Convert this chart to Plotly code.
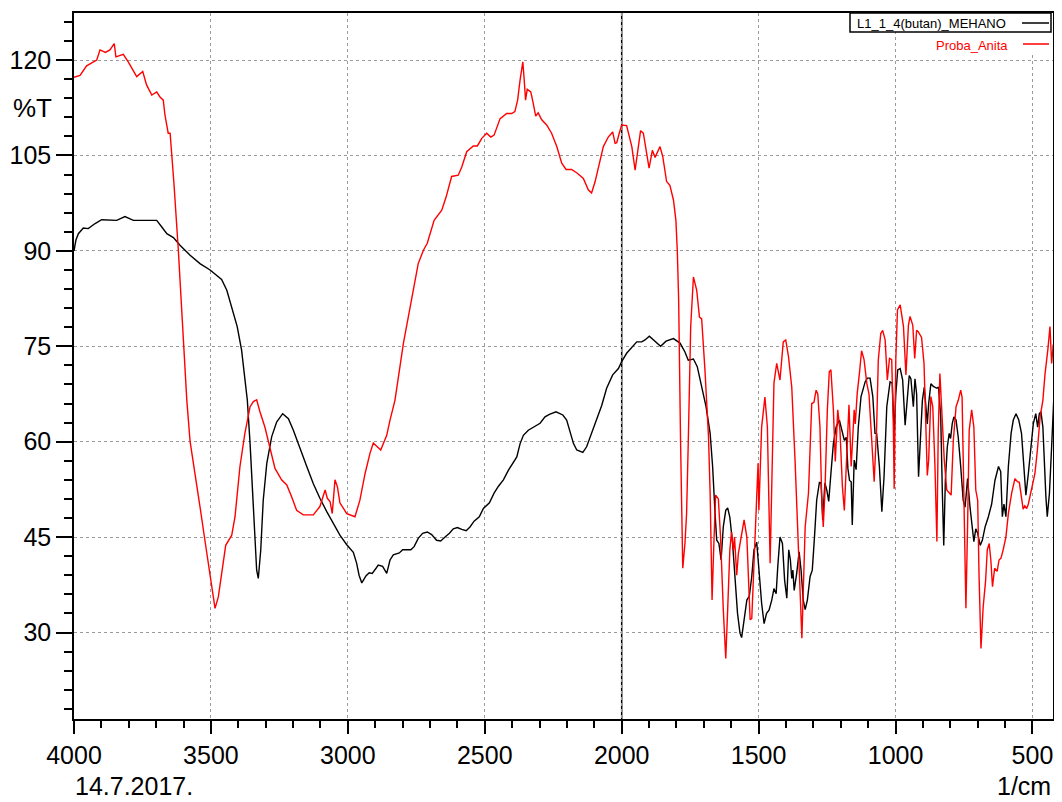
import plotly.graph_objects as go

# ---- data (wavenumber in 1/cm, %T) ----
black_name = "L1_1_4(butan)_MEHANO"
black_wn = [4000, 3993, 3984, 3966, 3948, 3923, 3899, 3869, 3844, 3814, 3783, 3747, 3698, 3680, 3661,
            3637, 3613, 3576, 3540, 3503, 3461, 3442, 3424, 3404, 3388, 3376, 3367, 3357, 3349, 3339,
            3333, 3327, 3318, 3309, 3296, 3278, 3260, 3238, 3217, 3199, 3175, 3150, 3126, 3102, 3077,
            3053, 3029, 3004, 2980, 2968, 2959, 2949, 2934, 2922, 2911, 2897, 2889, 2873, 2858, 2846,
            2834, 2812, 2800, 2770, 2758, 2743, 2727, 2710, 2694, 2676, 2661, 2645, 2629, 2615, 2600,
            2584, 2568, 2554, 2539, 2520, 2505, 2483, 2466, 2450, 2432, 2414, 2396, 2383, 2371, 2359,
            2341, 2323, 2298, 2280, 2264, 2240, 2215, 2201, 2189, 2176, 2164, 2142, 2128, 2110, 2091,
            2073, 2055, 2033, 2012, 2000, 1982, 1960, 1945, 1927, 1915, 1899, 1878, 1858, 1838, 1811,
            1787, 1769, 1757, 1738, 1724, 1708, 1692, 1677, 1668, 1659, 1653, 1645, 1637, 1629, 1620,
            1613, 1605, 1595, 1586, 1577, 1568, 1562, 1553, 1543, 1534, 1525, 1517, 1507, 1500, 1489,
            1480, 1471, 1462, 1452, 1444, 1436, 1430, 1422, 1413, 1405, 1397, 1390, 1384, 1379, 1375,
            1370, 1361, 1352, 1345, 1337, 1330, 1322, 1312, 1304, 1296, 1288, 1278, 1272, 1266, 1258,
            1251, 1244, 1236, 1227, 1217, 1205, 1196, 1187, 1180, 1174, 1168, 1162, 1158, 1151, 1144,
            1136, 1126, 1111, 1103, 1093, 1083, 1075, 1069, 1059, 1050, 1042, 1032, 1020, 1012, 1005,
            999, 992, 983, 974, 965, 957, 950, 944, 935, 929, 923, 916, 908, 902, 895,
            889, 884, 879, 871, 862, 849, 843, 835, 829, 824, 818, 811, 804, 799, 793,
            787, 779, 771, 762, 753, 746, 737, 728, 720, 714, 707, 700, 691, 683, 673,
            661, 649, 637, 624, 616, 610, 604, 597, 588, 578, 570, 560, 550, 540, 531,
            524, 515, 506, 497, 488, 481, 475, 469, 462, 457, 451, 446, 438, 430, 421,
            414, 409, 402]
black_t = [90.0, 91.7, 92.7, 93.6, 93.5, 94.3, 94.9, 94.8, 94.8, 95.4, 94.8, 94.8, 94.8, 93.8, 92.7,
           92.1, 90.9, 89.3, 88.0, 87.0, 85.5, 83.8, 81.2, 78.1, 74.4, 70.2, 66.5, 59.7, 52.9, 44.5,
           39.8, 38.5, 43.0, 50.8, 56.6, 60.8, 63.1, 64.4, 63.6, 61.8, 58.9, 56.1, 53.4, 51.1, 49.0,
           47.2, 45.3, 43.8, 42.6, 40.9, 39.0, 37.8, 38.9, 39.4, 39.3, 40.1, 40.6, 40.4, 39.3, 41.4,
           42.2, 42.5, 43.0, 43.0, 43.5, 44.8, 45.6, 45.8, 45.4, 44.5, 44.4, 45.0, 45.6, 46.3, 46.5,
           46.2, 46.0, 46.6, 47.5, 48.2, 49.5, 50.4, 51.9, 53.0, 54.0, 55.5, 56.8, 57.6, 59.7, 61.0,
           61.8, 62.3, 62.9, 63.9, 64.3, 64.7, 64.2, 63.4, 61.6, 59.7, 58.7, 58.3, 59.2, 61.3, 63.7,
           65.7, 68.4, 70.5, 71.5, 72.6, 73.9, 74.9, 75.7, 75.7, 76.0, 76.6, 75.7, 75.0, 75.8, 76.2,
           75.5, 74.1, 72.8, 73.0, 71.8, 68.4, 65.5, 61.3, 56.1, 48.7, 44.5, 44.0, 41.4, 46.6, 49.2,
           49.6, 48.1, 44.0, 38.2, 33.0, 29.9, 29.2, 32.0, 35.1, 35.7, 38.8, 43.0, 44.2, 40.5, 34.6,
           31.4, 33.0, 33.5, 35.1, 36.9, 36.1, 40.4, 45.0, 44.0, 38.2, 35.4, 43.0, 41.4, 38.5, 39.8,
           36.6, 39.3, 42.7, 39.8, 35.1, 33.6, 35.1, 38.8, 39.8, 45.0, 50.8, 53.6, 53.5, 47.7, 53.5,
           52.4, 50.6, 55.0, 59.7, 62.3, 63.4, 61.8, 60.2, 60.7, 55.8, 53.9, 53.7, 46.9, 57.1, 55.6,
           62.3, 67.1, 69.4, 70.0, 70.0, 67.1, 61.3, 61.3, 56.1, 49.0, 54.5, 65.5, 69.4, 69.2, 61.4,
           67.5, 71.3, 71.5, 69.7, 62.6, 67.5, 70.4, 69.9, 65.5, 69.9, 67.5, 54.5, 62.3, 66.5, 68.6,
           66.0, 62.8, 66.0, 69.1, 68.7, 68.4, 68.6, 63.9, 51.9, 43.7, 54.0, 59.2, 61.3, 60.5, 62.8,
           63.9, 63.4, 60.7, 56.1, 50.8, 49.7, 54.2, 49.7, 46.6, 44.3, 46.3, 45.6, 43.7, 44.5, 46.6,
           48.2, 50.2, 53.9, 56.1, 55.3, 48.2, 50.2, 48.2, 56.1, 61.3, 63.4, 64.4, 63.4, 61.3, 56.1,
           51.6, 55.0, 59.2, 62.8, 64.4, 62.3, 64.4, 64.7, 62.3, 56.1, 51.4, 48.2, 51.9, 59.2, 67.9,
           66.5, 62.3, 60.0]

red_name = "Proba_Anita"
red_wn = [4000, 3978, 3954, 3917, 3905, 3885, 3869, 3853, 3847, 3820, 3802, 3771, 3749, 3735, 3716,
          3698, 3686, 3674, 3668, 3656, 3649, 3645, 3635, 3619, 3603, 3588, 3576, 3558, 3540, 3522,
          3501, 3485, 3473, 3461, 3446, 3424, 3412, 3394, 3376, 3357, 3345, 3333, 3321, 3303, 3284,
          3266, 3242, 3223, 3205, 3187, 3163, 3126, 3102, 3083, 3075, 3065, 3057, 3047, 3038, 3029,
          3004, 2974, 2956, 2937, 2919, 2907, 2880, 2858, 2846, 2834, 2828, 2797, 2773, 2758, 2743,
          2724, 2710, 2685, 2657, 2641, 2621, 2597, 2584, 2566, 2542, 2527, 2511, 2493, 2478, 2466,
          2444, 2420, 2402, 2390, 2380, 2371, 2361, 2356, 2351, 2345, 2332, 2323, 2314, 2305, 2292,
          2274, 2256, 2237, 2219, 2203, 2183, 2162, 2140, 2122, 2110, 2097, 2082, 2067, 2049, 2033,
          2024, 2018, 2009, 2000, 1982, 1972, 1963, 1951, 1942, 1931, 1921, 1911, 1900, 1888, 1878,
          1860, 1850, 1836, 1824, 1811, 1802, 1797, 1792, 1785, 1781, 1777, 1769, 1763, 1757, 1748,
          1738, 1726, 1716, 1708, 1696, 1683, 1677, 1670, 1663, 1657, 1647, 1639, 1629, 1620, 1613,
          1605, 1599, 1592, 1588, 1580, 1574, 1564, 1553, 1543, 1531, 1525, 1517, 1509, 1502, 1499,
          1489, 1477, 1468, 1458, 1452, 1444, 1434, 1422, 1410, 1401, 1391, 1379, 1367, 1355, 1342,
          1330, 1318, 1306, 1298, 1290, 1284, 1276, 1270, 1264, 1258, 1249, 1242, 1236, 1227, 1220,
          1211, 1203, 1194, 1187, 1178, 1170, 1162, 1156, 1151, 1147, 1140, 1132, 1124, 1115, 1105,
          1097, 1089, 1078, 1069, 1063, 1054, 1047, 1038, 1030, 1022, 1014, 1008, 1005, 999, 993,
          983, 971, 962, 953, 947, 937, 930, 923, 917, 905, 896, 889, 884, 879, 871,
          864, 856, 849, 844, 838, 829, 822, 813, 804, 797, 789, 779, 771, 762, 757,
          750, 743, 737, 731, 722, 714, 707, 700, 695, 688, 680, 671, 665, 658, 652,
          646, 638, 629, 622, 615, 607, 597, 588, 576, 564, 555, 548, 540, 534, 528,
          521, 515, 506, 497, 491, 482, 472, 462, 454, 444, 436, 430, 424, 418, 414,
          409, 405]
red_t = [117.3, 117.6, 119.1, 120.0, 121.6, 121.2, 121.6, 122.6, 120.5, 120.9, 119.7, 117.4, 118.2, 116.1, 114.5,
         115.0, 114.2, 113.7, 111.4, 108.5, 108.5, 106.4, 100.6, 90.1, 77.0, 66.5, 60.0, 54.5, 49.8, 44.5,
         38.2, 33.8, 35.6, 39.3, 43.7, 45.3, 48.2, 56.1, 61.3, 65.5, 66.3, 66.6, 64.7, 62.3, 58.7,
         55.8, 54.0, 53.2, 51.3, 49.2, 48.5, 48.5, 49.8, 52.4, 51.1, 50.6, 48.7, 54.0, 52.9, 50.4,
         48.7, 48.2, 50.8, 55.0, 58.2, 59.8, 58.7, 61.0, 63.4, 65.7, 66.5, 75.5, 81.2, 84.9, 88.0,
         90.1, 91.2, 94.8, 96.4, 98.5, 101.7, 101.9, 103.2, 105.6, 106.5, 106.5, 107.7, 108.5, 107.9, 108.2,
         110.8, 111.6, 111.6, 111.9, 113.7, 116.9, 119.7, 116.9, 113.7, 115.4, 115.0, 113.2, 111.2, 111.7, 110.6,
         109.8, 108.5, 106.4, 103.8, 102.8, 102.8, 102.2, 101.4, 99.6, 99.1, 100.9, 103.8, 106.4, 107.9, 108.7,
         106.9, 107.0, 108.5, 109.8, 109.7, 107.9, 106.4, 102.7, 105.8, 108.9, 108.5, 105.8, 103.0, 105.8, 104.7,
         106.4, 104.8, 100.9, 100.3, 98.0, 94.8, 90.1, 82.3, 60.0, 45.6, 40.1, 44.0, 48.7, 59.7, 78.1,
         85.9, 83.8, 79.6, 79.3, 71.3, 60.8, 51.9, 35.1, 44.5, 51.6, 51.0, 45.0, 33.6, 25.9, 33.6,
         43.0, 45.8, 42.9, 45.0, 39.0, 42.4, 45.0, 47.7, 45.0, 32.0, 32.2, 41.4, 50.8, 56.6, 49.2,
         62.3, 67.0, 62.3, 40.9, 54.5, 69.2, 72.3, 69.7, 75.7, 76.0, 73.4, 68.6, 57.1, 43.0, 29.1,
         46.6, 51.9, 66.0, 66.2, 68.1, 67.5, 62.3, 51.9, 46.6, 51.9, 65.0, 71.0, 71.3, 65.0, 56.9,
         65.0, 61.8, 52.9, 49.2, 57.1, 65.8, 56.1, 62.3, 65.0, 62.8, 67.6, 70.7, 74.3, 72.9, 69.2,
         67.5, 62.3, 53.7, 62.3, 72.8, 77.0, 77.5, 76.0, 69.7, 73.1, 72.9, 62.3, 52.6, 72.9, 80.7,
         81.5, 78.1, 70.5, 78.3, 79.7, 78.3, 73.1, 77.5, 77.3, 76.4, 72.3, 63.4, 54.7, 57.1, 67.1,
         65.5, 56.1, 44.3, 61.7, 70.7, 63.4, 57.1, 52.4, 51.9, 51.6, 60.2, 65.5, 66.5, 68.1, 67.0,
         51.9, 33.8, 46.6, 61.8, 65.0, 62.3, 52.4, 50.8, 38.8, 27.5, 34.0, 38.2, 43.0, 44.0, 41.4,
         37.2, 40.1, 39.6, 41.4, 41.7, 43.0, 45.0, 48.7, 51.9, 54.2, 53.7, 53.6, 51.4, 49.4, 49.9,
         49.5, 50.2, 51.9, 53.8, 55.0, 58.7, 63.9, 66.5, 70.7, 74.4, 78.1, 72.3, 75.3, 74.4, 68.9,
         87.0, 73.0]

x_ticks = [4000, 3500, 3000, 2500, 2000, 1500, 1000, 500]
y_ticks = [30, 45, 60, 75, 90, 105, 120]
marker_wn = 2000
y_label = "%T"
x_unit = "1/cm"
date_text = "14.7.2017."

# ---- styling ----
FONT = "Liberation Sans, Arial, sans-serif"
PAGE_OFF = 8                      # default body margin of the html page
W, H = 1046, 794
L, R, T, B = 66, 1, 5, 83
PL, PT = L + PAGE_OFF, T + PAGE_OFF   # plot-area origin in window pixels
PW, PH = W - L - R, H - T - B


def px_x(px):
    return (px - PL) / PW


def px_y(py):
    return (PT + PH - py) / PH


fig = go.Figure()
fig.add_trace(go.Scatter(x=black_wn, y=black_t, mode="lines", name=black_name,
                         line=dict(color="black", width=1.4)))
fig.add_trace(go.Scatter(x=red_wn, y=red_t, mode="lines", name=red_name,
                         line=dict(color="#ff0000", width=1.4)))

grid = dict(showgrid=True, gridcolor="#9a9a9a", griddash="dot", gridwidth=1)
fig.update_xaxes(range=[4000, 425], tickmode="array", tickvals=x_ticks, automargin=False,
                 ticks="outside", ticklen=13, tickwidth=1.5, tickcolor="black",
                 showline=True, linecolor="black", linewidth=1.5, mirror=True,
                 zeroline=False, tickfont=dict(family=FONT, size=25, color="black"),
                 minor=dict(dtick=100, tick0=0, ticks="outside", ticklen=7, tickwidth=1.5,
                            tickcolor="black", showgrid=False),
                 **grid)
fig.update_yaxes(range=[16.4, 127.4], tickmode="array", tickvals=y_ticks, automargin=False,
                 ticks="outside", ticklen=16, tickwidth=1.5, tickcolor="black",
                 showline=True, linecolor="black", linewidth=1.5, mirror=True,
                 zeroline=False, tickfont=dict(family=FONT, size=25, color="black"),
                 minor=dict(dtick=3, tick0=0, ticks="outside", ticklen=8, tickwidth=1.5,
                            tickcolor="black", showgrid=False),
                 **grid)

shapes = [
    dict(type="line", xref="x", yref="paper", x0=marker_wn, x1=marker_wn, y0=0, y1=1,
         line=dict(color="black", width=1.5), layer="below"),
    dict(type="rect", xref="paper", yref="paper", x0=px_x(935), x1=px_x(1052),
         y0=px_y(53), y1=px_y(32), fillcolor="white", line=dict(width=0), layer="above"),
    dict(type="rect", xref="paper", yref="paper", x0=px_x(850), x1=px_x(1051),
         y0=px_y(32), y1=px_y(13), fillcolor="white", line=dict(color="black", width=1.5),
         layer="above"),
    dict(type="line", xref="paper", yref="paper", x0=px_x(1022), x1=px_x(1049),
         y0=px_y(23), y1=px_y(23), line=dict(color="black", width=1.5), layer="above"),
    dict(type="line", xref="paper", yref="paper", x0=px_x(1023), x1=px_x(1049),
         y0=px_y(44), y1=px_y(44), line=dict(color="#ff0000", width=1.5), layer="above"),
]

annotations = [
    dict(text=y_label, xref="paper", yref="paper", x=px_x(32), y=px_y(108),
         xanchor="center", yanchor="middle", showarrow=False,
         font=dict(family=FONT, size=26, color="black")),
    dict(text=date_text, xref="paper", yref="paper", x=px_x(73), y=px_y(786),
         xanchor="left", yanchor="middle", showarrow=False,
         font=dict(family=FONT, size=25, color="black")),
    dict(text=x_unit, xref="paper", yref="paper", x=px_x(1053), y=px_y(786),
         xanchor="right", yanchor="middle", showarrow=False,
         font=dict(family=FONT, size=25, color="black")),
    dict(text=black_name, xref="paper", yref="paper", x=px_x(855), y=px_y(23),
         xanchor="left", yanchor="middle", showarrow=False,
         font=dict(family=FONT, size=13, color="black")),
    dict(text=red_name, xref="paper", yref="paper", x=px_x(1010), y=px_y(45),
         xanchor="right", yanchor="middle", showarrow=False,
         font=dict(family=FONT, size=13, color="#ff0000")),
]

fig.update_layout(width=W, height=H, margin=dict(l=L, r=R, t=T, b=B),
                  plot_bgcolor="white", paper_bgcolor="white", showlegend=False,
                  font=dict(family=FONT, color="black"),
                  shapes=shapes, annotations=annotations)

fig.write_html("out.html")
